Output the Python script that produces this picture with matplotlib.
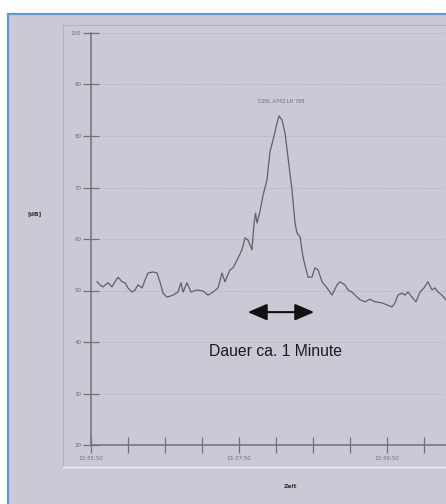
import matplotlib
matplotlib.use("Agg")
import matplotlib.pyplot as plt
from matplotlib.patches import Rectangle, FancyArrowPatch
from matplotlib.lines import Line2D

# ---- data (seconds after 13:35:50, level in dB) ----
times = [4.9, 7.3, 9.7, 13.8, 17.0, 19.5, 21.9, 25.1, 27.6, 30.0, 33.2, 35.7, 38.1,
         41.4, 43.8, 46.2, 50.3, 53.5, 55.9, 58.4, 61.6, 66.5, 70.5, 73.0, 74.6, 77.8,
         81.1, 85.9, 90.8, 94.9, 98.9, 103.0, 106.2, 108.6, 112.7, 115.1, 118.4, 122.4,
         124.9, 127.3, 130.5, 132.2, 133.4, 134.6, 137.0, 139.5, 142.7, 145.1, 147.6,
         150.8, 152.4, 154.9, 157.3, 159.7, 163.0, 165.4, 167.0, 169.5, 171.9, 175.9,
         179.2, 181.6, 184.1, 187.3, 191.4, 195.4, 199.5, 201.9, 205.9, 208.4, 211.6,
         214.1, 218.1, 222.2, 226.2, 230.3, 235.9, 240.0, 244.1, 246.5, 248.9, 252.2,
         254.6, 257.0, 260.3, 263.5, 266.8, 270.0, 273.2, 276.5, 278.9, 281.4, 284.6,
         287.8]
levels = [51.7, 51.1, 50.7, 51.5, 50.7, 51.7, 52.6, 51.7, 51.5, 50.5, 49.7, 50.1, 51.1,
          50.5, 52.0, 53.4, 53.6, 53.4, 51.7, 49.5, 48.7, 49.1, 49.7, 51.5, 49.7, 51.5,
          49.7, 50.1, 49.9, 49.1, 49.7, 50.5, 53.4, 51.7, 54.0, 54.4, 55.9, 57.9,
          60.2, 59.8, 57.9, 63.0, 65.0, 63.1, 65.3, 68.5, 71.5, 76.9, 79.2,
          82.5, 83.9, 83.1, 80.6, 75.9, 69.5, 63.1, 61.2, 60.4, 56.5, 52.6,
          52.6, 54.4, 54.0, 51.7, 50.5, 49.1, 51.1, 51.7, 51.1, 50.1, 49.7,
          49.1, 48.2, 47.8, 48.3, 47.8, 47.6, 47.2, 46.8, 47.6, 49.1, 49.5,
          49.1, 49.7, 48.7, 47.8, 49.7, 50.5, 51.7, 50.1, 50.5, 49.7, 49.1,
          48.2]

y_ticks = [20, 30, 40, 50, 60, 70, 80, 90, 100]
x_ticks = [0, 30, 60, 90, 120, 150, 180, 210, 240, 270, 300]
x_tick_labels = ["13:35:50", "", "", "", "13:37:50", "", "", "", "13:39:50", "", ""]
peak_label = "D26L A742.LH 788"
duration_text = "Dauer ca. 1 Minute"
duration_span = (124.9, 183.2)

W, H = 446, 504
bg = "#ccc9d6"
fig = plt.figure(figsize=(W / 100, H / 100), dpi=100, facecolor="white")

def fx(px):
    return px / W

def fy(py):
    return 1 - py / H

# outer panel with blue border
fig.patches.append(Rectangle((fx(8), fy(510)), fx(460), fy(14) - fy(510),
                             transform=fig.transFigure, facecolor=bg,
                             edgecolor="#5b9bd5", linewidth=1.6, zorder=-2))
# inner frame lines
fig.lines.append(Line2D([fx(63), fx(63)], [fy(25), fy(467)], transform=fig.transFigure,
                        color="#b3b0bd", linewidth=0.8, zorder=-1))
fig.lines.append(Line2D([fx(63), fx(446)], [fy(25), fy(25)], transform=fig.transFigure,
                        color="#b3b0bd", linewidth=0.8, zorder=-1))
fig.lines.append(Line2D([fx(63), fx(446)], [fy(467), fy(467)], transform=fig.transFigure,
                        color="#f2f1f6", linewidth=1.0, zorder=-1))

left = fx(91)
bottom = fy(445)
top = fy(33)
xmax = 300
width = xmax * 1.2333 / W
ax = fig.add_axes([left, bottom, width, top - bottom])
ax.set_zorder(1)
ax.set_facecolor("none")
ax.set_xlim(0, xmax)
ax.set_ylim(20, 100)

for s in ["top", "right"]:
    ax.spines[s].set_visible(False)
for s in ["left", "bottom"]:
    ax.spines[s].set_color("#727079")
    ax.spines[s].set_linewidth(1.1)

ax.set_yticks(y_ticks)
ax.set_yticklabels([str(v) for v in y_ticks])
ax.set_xticks(x_ticks)
ax.set_xticklabels(x_tick_labels)
ax.tick_params(axis="y", direction="inout", length=12, width=0.9, color="#727079",
               labelsize=4, labelcolor="#6e6c78", pad=1)
ax.tick_params(axis="x", direction="inout", length=12, width=0.9, color="#727079",
               labelsize=4, labelcolor="#6e6c78", pad=2)

for v in y_ticks[1:]:
    ax.axhline(v, color="#b2afbd", linewidth=0.6, linestyle=(0, (1.5, 1.5)), zorder=1)

ax.plot(times, levels, color="#625f68", linewidth=0.9, zorder=3)

ax.text(152.4 + 2, 86.3, peak_label, fontsize=3.6, color="#6e6c78", ha="center",
        va="bottom", family="DejaVu Sans")

arrow = FancyArrowPatch((duration_span[0], 45.8), (duration_span[1], 45.8),
                        arrowstyle="<|-|>,head_length=0.65,head_width=0.28",
                        mutation_scale=18, color="#111111", linewidth=1.5, zorder=4)
ax.add_patch(arrow)
ax.text(150, 38.1, duration_text, fontsize=11.3, family="Liberation Sans",
        color="#1a1a1a", ha="center", va="center")

fig.text(fx(35), fy(214), "[dB]", fontsize=4.3, color="#333", ha="center", va="center",
         fontweight="bold")
fig.text(fx(290), fy(487), "Zeit", fontsize=4.3, color="#333", ha="center", va="center",
         fontweight="bold")

fig.savefig("out.png", dpi=100, facecolor="white")
